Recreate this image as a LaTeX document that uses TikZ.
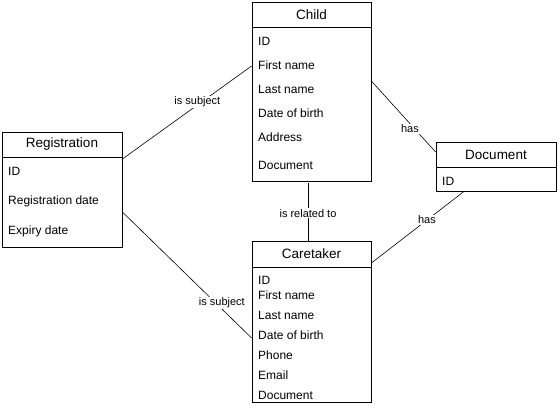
\documentclass[tikz,border=0pt]{standalone}
\usepackage{fontspec}
\setmainfont{Liberation Sans}
\usetikzlibrary{calc}
\tikzset{
  entity/.style={draw, line width=0.8pt, inner sep=0pt},
  head/.style={draw, line width=0.8pt, anchor=north, inner sep=0pt, font=\fontsize{13.5}{16}\selectfont},
  attr/.style={anchor=west, inner sep=0pt, font=\fontsize{12}{14}\selectfont},
  rel/.style={fill=white, inner sep=1pt, font=\fontsize{11}{13}\selectfont},
  link/.style={line width=0.6pt}
}

\begin{document}
\begin{tikzpicture}[x=1pt,y=-1pt]
    \useasboundingbox (0,0) rectangle (559,407);

    % entities
    \node[entity, minimum width=119, minimum height=179] (child) at (311.5,91.5) {};
    \node[head, minimum width=119, minimum height=25] (childhead) at (child.north) {Child};
    \foreach \txt/\y [count=\i] in {ID/41, First name/65, Last name/89, Date of birth/113, Address/137, Document/165}
        \node[attr] (child-\i) at (258,\y) {\txt};

    \node[entity, minimum width=119, minimum height=161] (care) at (311.5,321.5) {};
    \node[head, minimum width=119, minimum height=26] (carehead) at (care.north) {Caretaker};
    \foreach \txt/\y [count=\i] in {ID/280, First name/295, Last name/315, Date of birth/335, Phone/355, Email/375, Document/395}
        \node[attr] (care-\i) at (258,\y) {\txt};

    \node[entity, minimum width=120, minimum height=115] (reg) at (62,189.5) {};
    \node[head, minimum width=120, minimum height=25] (reghead) at (reg.north) {Registration};
    \foreach \txt/\y [count=\i] in {ID/171, Registration date/201, Expiry date/231}
        \node[attr] (reg-\i) at (8,\y) {\txt};

    \node[entity, minimum width=120, minimum height=49] (doc) at (496,166.5) {};
    \node[head, minimum width=120, minimum height=25] (dochead) at (doc.north) {Document};
    \node[attr] (doc-1) at (442,181) {ID};

    % relations
    \draw[link] ([yshift=30.5]reg.east) -- node[rel, pos=0.58, yshift=3] {is subject} ([yshift=25.5]child.west);
    \draw[link] ([yshift=-22.5]reg.east) -- node[rel, pos=0.77, yshift=6] {is subject} ([yshift=-16.5]care.west);
    \draw[link] ([xshift=-3.5,yshift=-2]child.south) -- node[rel, pos=0.52] {is related to} ([xshift=-3.5]care.north);
    \draw[link] ([yshift=10.5]child.east) -- node[rel, pos=0.6, yshift=-5] {has} ([yshift=14.5]doc.west);
    \draw[link] ([yshift=58.5]care.east) -- node[rel, pos=0.6] {has} ([xshift=-32]doc.south);
\end{tikzpicture}
\end{document}
